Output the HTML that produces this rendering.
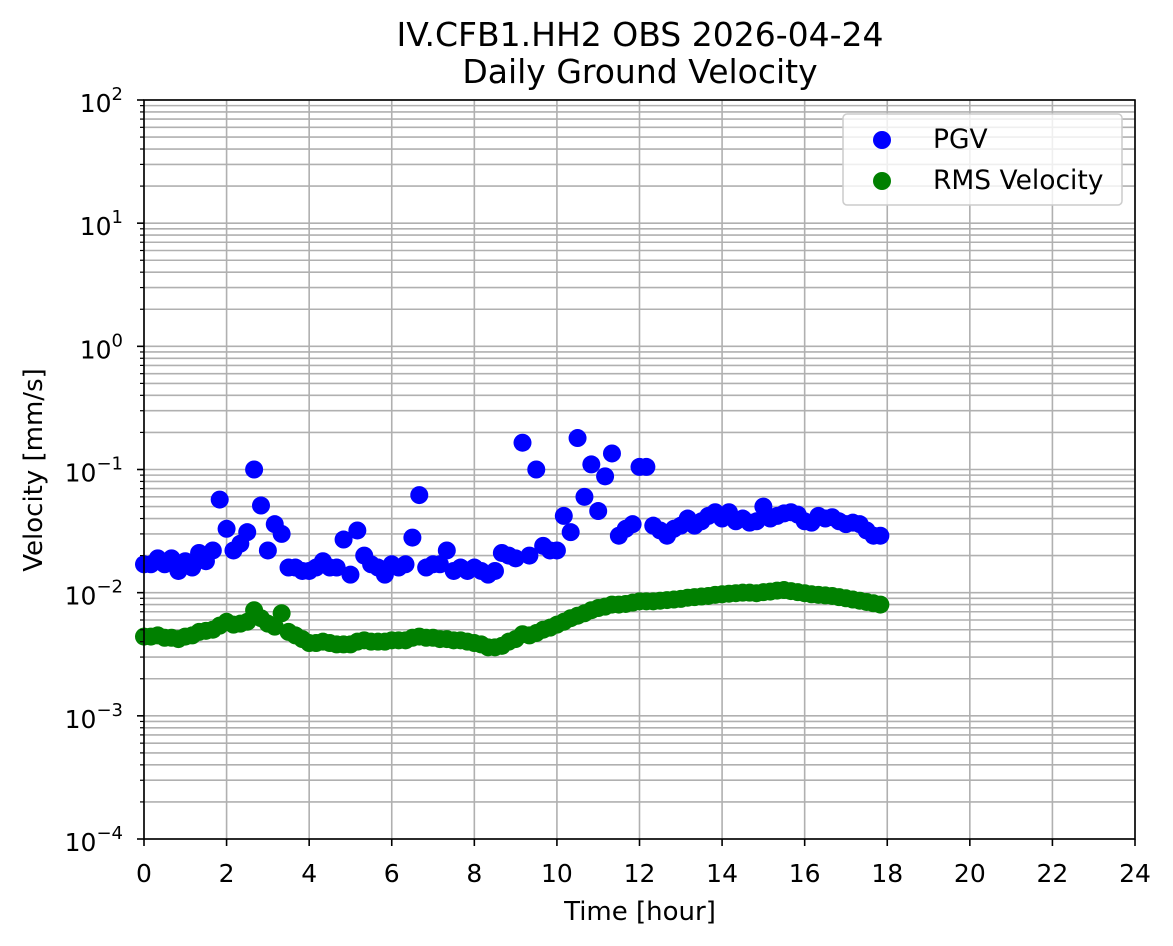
<!DOCTYPE html>
<html><head><meta charset="utf-8">
<style>
html,body{margin:0;padding:0;background:#fff;}
svg{display:block;font-family:"DejaVu Sans","Liberation Sans",sans-serif;}
</style></head>
<body>
<svg id="chart" width="1173" height="946" viewBox="0 0 1173 946">
<rect x="0" y="0" width="1173" height="946" fill="#fff"/>
<text x="640" y="46" font-size="33" text-anchor="middle">IV.CFB1.HH2 OBS 2026-04-24</text>
<text x="640" y="83" font-size="33" text-anchor="middle">Daily Ground Velocity</text>
<g id="grid"></g>
<g id="pts"></g>
<rect x="144" y="100" width="991" height="739" fill="none" stroke="#000" stroke-width="1.6"/>
<g id="ticks"></g>
<text x="640" y="920" font-size="26" text-anchor="middle">Time [hour]</text>
<text x="0" y="0" font-size="26" text-anchor="middle" transform="translate(42,470) rotate(-90)">Velocity [mm/s]</text>
<g>
<rect x="843" y="114" width="279" height="91" rx="4" fill="#fff" fill-opacity="0.8" stroke="#ccc" stroke-width="1.5"/>
<circle cx="882" cy="140" r="9" fill="#0000ff"/>
<text x="933" y="148" font-size="26.5">PGV</text>
<circle cx="882" cy="181" r="9" fill="#008000"/>
<text x="933" y="189" font-size="26.5">RMS Velocity</text>
</g>
</svg>
<script>
const xTicks=[0,2,4,6,8,10,12,14,16,18,20,22,24];
const yDecades=[-4,-3,-2,-1,0,1,2];
const pgv=[0.017,0.017,0.019,0.017,0.019,0.015,0.018,0.016,0.021,0.018,0.022,0.057,
0.033,0.022,0.025,0.031,0.1,0.051,0.022,0.036,0.03,0.016,0.016,0.015,
0.015,0.016,0.018,0.016,0.016,0.027,0.014,0.032,0.02,0.017,0.016,0.014,
0.017,0.016,0.017,0.028,0.062,0.016,0.017,0.017,0.022,0.015,0.016,0.015,
0.016,0.015,0.014,0.015,0.021,0.02,0.019,0.165,0.02,0.1,0.024,0.022,
0.022,0.042,0.031,0.18,0.06,0.11,0.046,0.088,0.135,0.029,0.033,0.036,
0.105,0.105,0.035,0.032,0.029,0.033,0.035,0.04,0.035,0.038,0.042,0.045,
0.04,0.045,0.038,0.04,0.037,0.038,0.05,0.04,0.042,0.044,0.045,0.043,
0.038,0.037,0.042,0.04,0.041,0.038,0.036,0.037,0.036,0.032,0.029,0.029];
const rms=[.0044,.0044,.0045,.0043,.0043,.0042,.0044,.0045,.0048,.0049,.0050,.0054,
.0058,.0055,.0056,.0058,.0072,.0062,.0056,.0053,.0068,.0048,.0045,.0042,
.0039,.0039,.0040,.0039,.0038,.0038,.0038,.0040,.0041,.0040,.0040,.0040,
.0041,.0041,.0041,.0043,.0044,.0043,.0043,.0042,.0042,.0041,.0041,.0040,
.0039,.0038,.0036,.0036,.0037,.0040,.0042,.0046,.0045,.0047,.0050,.0052,
.0055,.0058,.0062,.0065,.0068,.0072,.0075,.0077,.0080,.0080,.0081,.0083,
.0085,.0085,.0085,.0086,.0087,.0088,.0089,.0091,.0092,.0093,.0094,.0096,
.0097,.0098,.0099,.0100,.0100,.0099,.0101,.0102,.0104,.0105,.0103,.0101,
.0099,.0097,.0096,.0095,.0094,.0092,.0090,.0088,.0086,.0084,.0082,.0080];
const hours=pgv.map((_,i)=>i/6);
const NS='http://www.w3.org/2000/svg';
const X0=144,X1=1135,Y0=839,Y1=100;
const sx=h=>X0+(h-0)/(24-0)*(X1-X0);
const sy=v=>Y0-(Math.log10(v)+4)/6*(Y0-Y1);
function mk(tag,attrs,parent){const e=document.createElementNS(NS,tag);for(const k in attrs)e.setAttribute(k,attrs[k]);parent.appendChild(e);return e;}
const grid=document.getElementById('grid'),ticks=document.getElementById('ticks'),pts=document.getElementById('pts');
xTicks.forEach(t=>{
  const x=sx(t);
  const g=mk('line',{x1:x,x2:x,y1:Y1,y2:Y0,stroke:'#b0b0b0','stroke-width':1.6},grid);
  
  
  const tk=mk('line',{x1:x,x2:x,y1:Y0,y2:Y0+7,stroke:'#000','stroke-width':1.6},ticks);
  
  
  const lb=mk('text',{x:x,y:Y0+43,'font-size':25,'text-anchor':'middle'},ticks);
  lb.textContent=String(t);
  
  
});
yDecades.forEach(d=>{
  const y=sy(Math.pow(10,d));
  const g=mk('line',{x1:X0,x2:X1,y1:y,y2:y,stroke:'#b0b0b0','stroke-width':1.6},grid);
  
  
  const tk=mk('line',{x1:X0-7,x2:X0,y1:y,y2:y,stroke:'#000','stroke-width':1.6},ticks);
  
  
  const lb=mk('text',{x:X0-21,y:y+12,'font-size':25,'text-anchor':'end'},ticks);
  
  
  const base=mk('tspan',{},lb);base.textContent='10';
  const sup=mk('tspan',{dy:-12,'font-size':18},lb);sup.textContent=(d<0?'\u2212'+(-d):String(d));
  if(d<2){for(let m=2;m<=9;m++){
    const ym=sy(m*Math.pow(10,d));
    const gm=mk('line',{x1:X0,x2:X1,y1:ym,y2:ym,stroke:'#b0b0b0','stroke-width':1.6},grid);
    
    
    const tm=mk('line',{x1:X0-4,x2:X0,y1:ym,y2:ym,stroke:'#000','stroke-width':1.2},ticks);
    
    
  }}
});
pgv.forEach((v,i)=>{
  const c=mk('circle',{cx:sx(hours[i]),cy:sy(v),r:9,fill:'#0000ff'},pts);
  
  
});
rms.forEach((v,i)=>{
  const c=mk('circle',{cx:sx(hours[i]),cy:sy(v),r:9,fill:'#008000'},pts);
  
  
});
</script>
</body></html>
